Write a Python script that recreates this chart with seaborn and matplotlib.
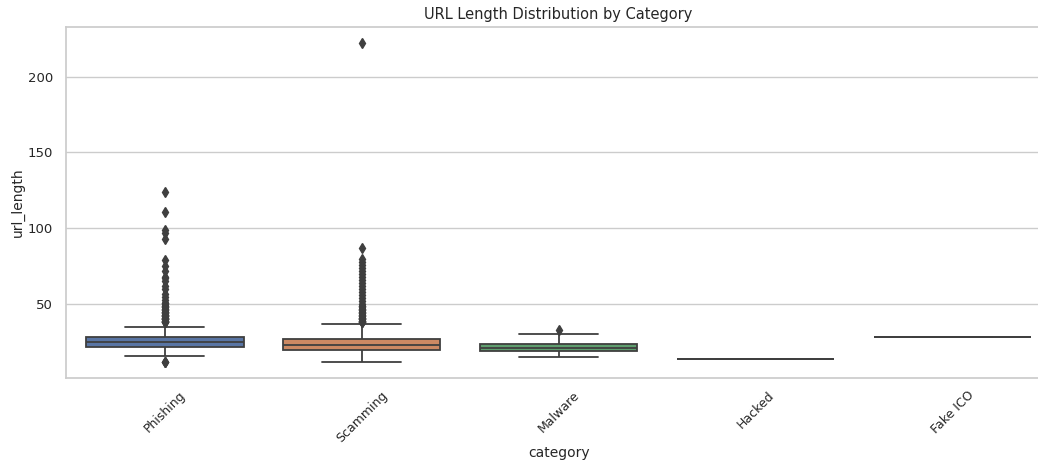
import numpy as np
import pandas as pd
import matplotlib
matplotlib.use("Agg")
import matplotlib.pyplot as plt
import seaborn as sns

# URL lengths per category, stored as (length, count) frequency tables
categories = ["Phishing", "Scamming", "Malware", "Hacked", "Fake ICO"]

phishing_lengths = [12, 16, 17, 18, 19, 20, 21, 22, 23, 24, 25, 26, 27, 28, 29, 30, 31, 32, 33, 34, 35]
phishing_counts = [3, 4, 6, 9, 12, 16, 20, 24, 24, 24, 24, 20, 16, 34, 8, 6, 4, 3, 2, 2, 1]
phishing_long = [38, 38, 38, 38, 39, 39, 39, 40, 40, 40, 40, 41, 41, 41, 42, 42, 42,
                 43, 43, 43, 44, 44, 45, 45, 45, 46, 46, 47, 47, 48, 48, 49, 49, 50,
                 51, 51, 53, 55, 57, 60, 62, 65, 67, 68, 72, 75, 79, 93, 97, 99, 111, 124]

scamming_lengths = [12, 13, 14, 15, 16, 17, 18, 19, 20, 21, 22, 23, 24, 25, 26, 27, 28,
                    29, 30, 31, 32, 33, 34, 35, 36, 37]
scamming_counts = [2, 3, 4, 5, 7, 9, 12, 16, 20, 24, 26, 22, 18, 16, 16, 18, 4,
                   3, 3, 2, 2, 1, 1, 1, 1, 1]
scamming_long = [38, 38, 38, 39, 39, 39, 40, 40, 40, 41, 41, 41, 42, 42, 43, 43, 44, 44,
                 45, 45, 46, 46, 47, 47, 48, 49, 49, 50, 52, 54, 56, 58, 60, 62, 64,
                 66, 68, 70, 72, 74, 76, 78, 80, 87, 222]

malware_values = [15, 17, 18, 19, 19, 20, 21, 21, 22, 23, 23, 24, 26, 30, 33]
hacked_values = [14, 14, 14]
fake_ico_values = [28, 28]

series = {
    "Phishing": list(np.repeat(phishing_lengths, phishing_counts)) + phishing_long,
    "Scamming": list(np.repeat(scamming_lengths, scamming_counts)) + scamming_long,
    "Malware": malware_values,
    "Hacked": hacked_values,
    "Fake ICO": fake_ico_values,
}
df = pd.DataFrame(
    [(cat, v) for cat in categories for v in series[cat]],
    columns=["category", "url_length"],
)

sns.set_theme(style="whitegrid", palette="deep")
plt.rcParams["font.family"] = ["DejaVu Sans"]

fig = plt.figure(figsize=(10.38, 4.66), dpi=100)
ax = fig.add_axes([0.0639, 0.1895, 0.9485, 0.7519])

gray = "#3f3f3f"
sns.boxplot(
    data=df, x="category", y="url_length", hue="category", order=categories,
    hue_order=categories, palette="deep", legend=False, ax=ax, linewidth=1.3,
    linecolor=gray,
    flierprops={"marker": "d", "markerfacecolor": gray, "markeredgecolor": gray,
                "markersize": 5},
)

ax.set_title("URL Length Distribution by Category", fontsize=10.5)
ax.set_xlabel("category", fontsize=10, labelpad=1)
ax.set_ylabel("url_length", fontsize=10, labelpad=2)
ax.tick_params(axis="x", rotation=45, labelsize=9, pad=2)
ax.tick_params(axis="y", labelsize=9.5)
ax.set_yticks([50, 100, 150, 200])

fig.savefig("out.png", dpi=100)
